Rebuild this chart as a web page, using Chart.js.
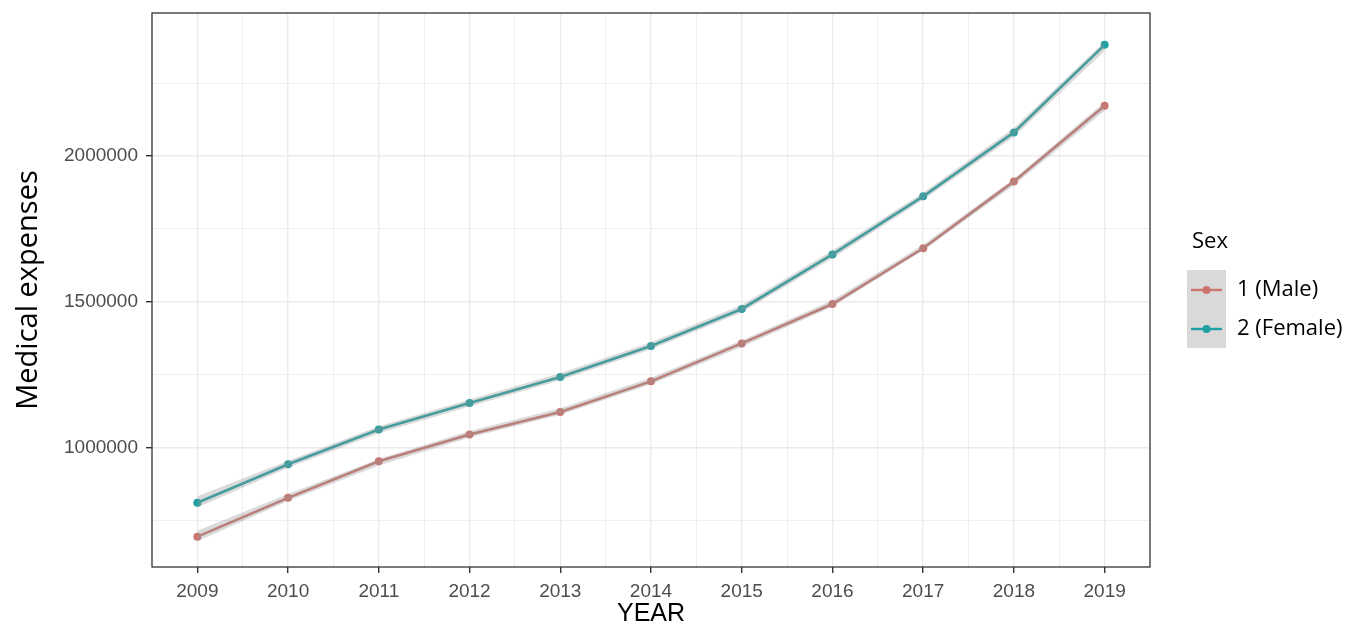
<!DOCTYPE html>
<html>
<head>
<meta charset="utf-8">
<script src="https://cdn.jsdelivr.net/npm/chart.js@4.4.1/dist/chart.umd.min.js"></script>
<style>
    html, body {
        margin : 0;
        padding : 0;
        background : #FFFFFF;
    }
    .chart-box {
        width : 1362px;
        height : 629px;
    }
</style>
</head>
<body>
<div class="chart-box"><canvas id="chart"></canvas></div>
<script>
var years = [2009, 2010, 2011, 2012, 2013, 2014, 2015, 2016, 2017, 2018, 2019];
var male = [696000, 829000, 954000, 1046000, 1123000, 1228000, 1358000, 1493000, 1684000, 1913000, 2172000];
var female = [812000, 944000, 1063000, 1154000, 1243000, 1349000, 1476000, 1663000, 1862000, 2081000, 2381000];

// confidence band of the smoother (grey ribbon)
var maleLow = [680000, 818000, 940000, 1036000, 1114000, 1218000, 1346000, 1484000, 1676000, 1900000, 2155000];
var maleHigh = [716000, 842000, 962000, 1058000, 1136000, 1240000, 1368000, 1506000, 1696000, 1922000, 2185000];
var femaleLow = [796000, 932000, 1050000, 1142000, 1232000, 1338000, 1464000, 1650000, 1850000, 2066000, 2360000];
var femaleHigh = [834000, 956000, 1074000, 1166000, 1256000, 1362000, 1490000, 1676000, 1874000, 2096000, 2392000];

var yearTicks = [2009, 2010, 2011, 2012, 2013, 2014, 2015, 2016, 2017, 2018, 2019];
var yearMinor = [2009.5, 2010.5, 2011.5, 2012.5, 2013.5, 2014.5, 2015.5, 2016.5, 2017.5, 2018.5];
var valueTicks = [1000000, 1500000, 2000000];
var valueMinor = [750000, 1250000, 1750000, 2250000];

var legendItems = ["1 (Male)", "2 (Female)"];

var COLORS = {
    male: 'rgb(204, 116, 110)',
    female: 'rgb(30, 160, 164)',
    band: 'rgba(150, 150, 150, 0.35)',
    grid: '#EBEBEB',
    text: '#4D4D4D'
};

var toPoints = (arr) => years.map((y, i) => ({ x: y, y: arr[i] }));

var isMajor = (list, v) => list.indexOf(v) >= 0;

var panelBorder = {
    id: 'panelBorder',
    afterDatasetsDraw(chart) {
        var { ctx, chartArea } = chart;
        ctx.save();
        ctx.strokeStyle = '#333333';
        ctx.lineWidth = 1.3;
        ctx.strokeRect(chartArea.left, chartArea.top, chartArea.right - chartArea.left, chartArea.bottom - chartArea.top);
        ctx.restore();
    }
};

var sexLegend = {
    id: 'sexLegend',
    afterDraw(chart) {
        var ctx = chart.ctx;
        ctx.save();
        ctx.fillStyle = '#000000';
        ctx.font = '22px "Open Sans"';
        ctx.textBaseline = 'middle';
        ctx.textAlign = 'left';
        ctx.fillText('Sex', 1192, 242);

        ctx.fillStyle = '#D9D9D9';
        ctx.fillRect(1187, 270, 39, 78);

        var keyColors = [COLORS.male, COLORS.female];
        legendItems.forEach((label, i) => {
            var y = 290 + i * 39;
            ctx.strokeStyle = keyColors[i];
            ctx.lineWidth = 2.4;
            ctx.beginPath();
            ctx.moveTo(1191, y);
            ctx.lineTo(1222, y);
            ctx.stroke();
            ctx.fillStyle = keyColors[i];
            ctx.beginPath();
            ctx.arc(1206.5, y, 4, 0, Math.PI * 2);
            ctx.fill();
            ctx.fillStyle = '#000000';
            ctx.fillText(label, 1237, y);
        });
        ctx.restore();
    }
};

function bandSet(arr) {
    return {
        data: toPoints(arr),
        borderWidth: 0,
        pointRadius: 0,
        backgroundColor: COLORS.band,
        fill: false
    };
}

function lineSet(label, arr, color) {
    return {
        label,
        data: toPoints(arr),
        borderColor: color,
        backgroundColor: color,
        borderWidth: 2.6,
        pointRadius: 4,
        pointBorderWidth: 0,
        fill: false
    };
}

var maleHighSet = bandSet(maleHigh);
maleHighSet.fill = '-1';
var femaleHighSet = bandSet(femaleHigh);
femaleHighSet.fill = '-1';

new Chart(document.getElementById('chart'), {
    type: 'line',
    data: {
        datasets: [
            bandSet(maleLow),
            maleHighSet,
            bandSet(femaleLow),
            femaleHighSet,
            lineSet(legendItems[0], male, COLORS.male),
            lineSet(legendItems[1], female, COLORS.female)
        ]
    },
    options: {
        responsive: true,
        maintainAspectRatio: false,
        animation: false,
        layout: {
            padding: { left: 0, right: 212, top: 13, bottom: 0 }
        },
        plugins: {
            legend: { display: false },
            tooltip: { enabled: false }
        },
        scales: {
            x: {
                type: 'linear',
                min: 2008.5,
                max: 2019.5,
                afterBuildTicks: (scale) => {
                    scale.ticks = yearTicks.concat(yearMinor).sort((a, b) => a - b).map(v => ({ value: v }));
                },
                afterFit: (scale) => { scale.height = 62; },
                border: { display: false },
                grid: {
                    color: COLORS.grid,
                    lineWidth: (c) => isMajor(yearTicks, c.tick && c.tick.value) ? 1.4 : 0.8,
                    tickColor: (c) => isMajor(yearTicks, c.tick && c.tick.value) ? '#333333' : 'rgba(0,0,0,0)',
                    tickLength: 6
                },
                ticks: {
                    autoSkip: false,
                    maxRotation: 0,
                    padding: 7,
                    color: COLORS.text,
                    font: { family: '"Liberation Sans", Arial', size: 19 },
                    callback: (v) => isMajor(yearTicks, v) ? String(v) : ''
                },
                title: {
                    display: true,
                    text: 'YEAR',
                    color: '#000000',
                    padding: { top: 0, bottom: 2.5 },
                    font: { family: '"Liberation Sans", Arial', size: 25, lineHeight: 1 }
                }
            },
            y: {
                min: 592000,
                max: 2490000,
                afterBuildTicks: (scale) => {
                    scale.ticks = valueTicks.concat(valueMinor).sort((a, b) => a - b).map(v => ({ value: v }));
                },
                afterFit: (scale) => {
                    scale.width = 152;
                    scale.paddingTop = 0;
                    scale.paddingBottom = 0;
                },
                border: { display: false },
                grid: {
                    color: COLORS.grid,
                    lineWidth: (c) => isMajor(valueTicks, c.tick && c.tick.value) ? 1.4 : 0.8,
                    tickColor: (c) => isMajor(valueTicks, c.tick && c.tick.value) ? '#333333' : 'rgba(0,0,0,0)',
                    tickLength: 6
                },
                ticks: {
                    autoSkip: false,
                    padding: 8,
                    color: COLORS.text,
                    font: { family: '"Liberation Sans", Arial', size: 19 },
                    callback: (v) => isMajor(valueTicks, v) ? String(v) : ''
                },
                title: {
                    display: true,
                    text: 'Medical expenses',
                    color: '#000000',
                    padding: { top: 11, bottom: 0 },
                    font: { family: '"Open Sans"', size: 29 }
                }
            }
        }
    },
    plugins: [panelBorder, sexLegend]
});
</script>
</body>
</html>
